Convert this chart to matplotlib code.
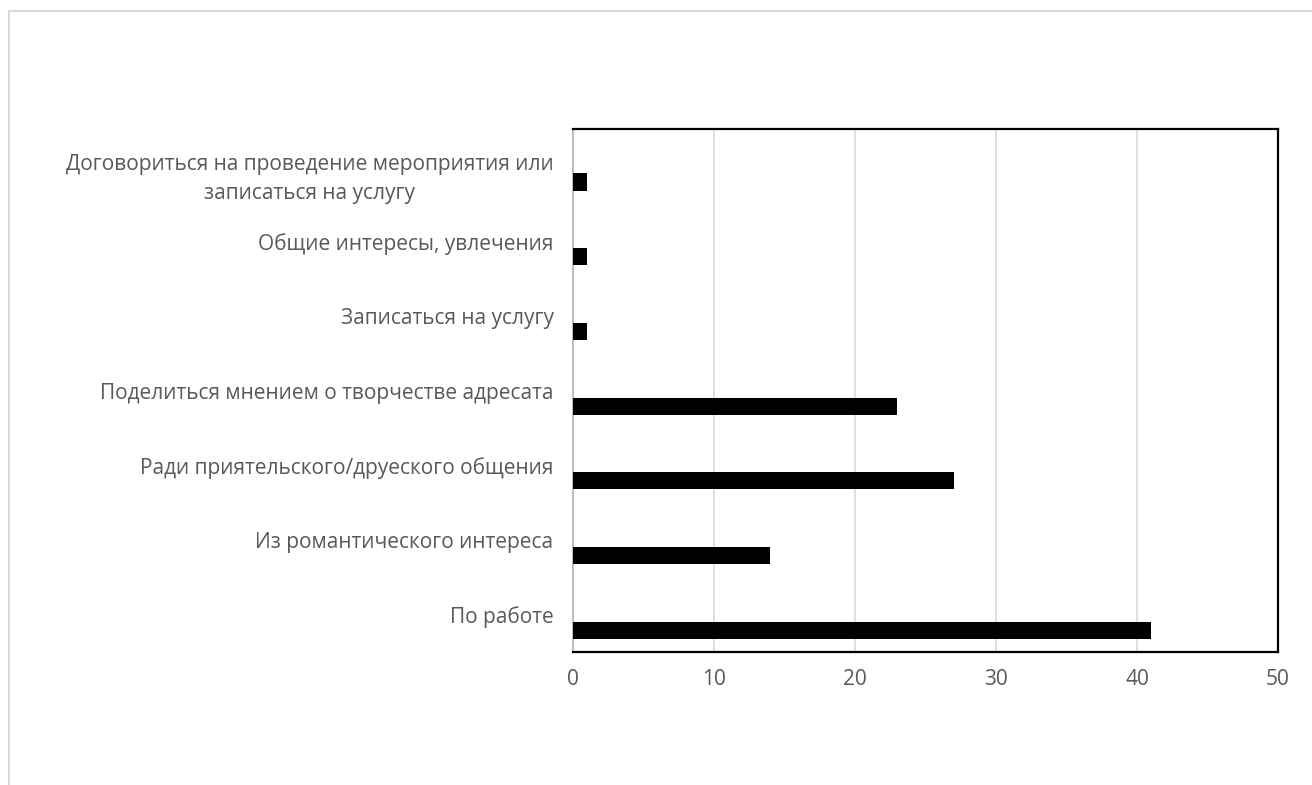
import matplotlib
matplotlib.use('Agg')
import numpy as np
import matplotlib.pyplot as plt
from matplotlib.patches import Rectangle
from matplotlib.transforms import ScaledTranslation

# Categories listed bottom to top
categories = [
    "По работе",
    "Из романтического интереса",
    "Ради приятельского/друеского общения",
    "Поделиться мнением о творчестве адресата",
    "Записаться на услугу",
    "Общие интересы, увлечения",
    "Договориться на проведение мероприятия или\nзаписаться на услугу",
]
values = [41, 14, 27, 23, 1, 1, 1]
xticks = [0, 10, 20, 30, 40, 50]

plt.rcParams['font.family'] = ['Open Sans', 'DejaVu Sans']
text_color = '#595959'

fig = plt.figure(figsize=(13.12, 7.85), dpi=100)
ax = fig.add_axes([573/1312, 1 - 652/785, (1278 - 573)/1312, (652 - 129)/785])

# light border around the chart area (right and bottom edges fall outside)
fig.patches.append(Rectangle((9/1312, -0.1), 1.2, 1 - 11/785 + 0.1,
                             transform=fig.transFigure, fill=False,
                             edgecolor='#D9D9D9', linewidth=1.5))

y = np.arange(len(categories))
# bars sit below the category centre (empty second series in the original)
ax.barh(y - 0.21, values, height=0.23, color='black', zorder=3)

ax.set_xlim(0, 50)
ax.set_ylim(-0.5, len(categories) - 0.5)
ax.set_xticks(xticks)
ax.set_yticks(y)
ax.set_yticklabels(categories, multialignment='center', linespacing=1.45)
ax.tick_params(axis='both', length=0, labelsize=15, colors=text_color)
ax.tick_params(axis='x', pad=12)
ax.tick_params(axis='y', pad=14)

# the wrapped label sits a little lower in the original
top_label = ax.get_yticklabels()[-1]
top_label.set_transform(top_label.get_transform()
                        + ScaledTranslation(0, -0.065, fig.dpi_scale_trans))

ax.grid(axis='x', color='#D9D9D9', linewidth=1.2, zorder=0)
for side in ['top', 'right', 'bottom']:
    ax.spines[side].set_color('black')
    ax.spines[side].set_linewidth(1.6)
ax.spines['left'].set_color('#BFBFBF')
ax.spines['left'].set_linewidth(1.5)

fig.savefig('out.png', dpi=100)
